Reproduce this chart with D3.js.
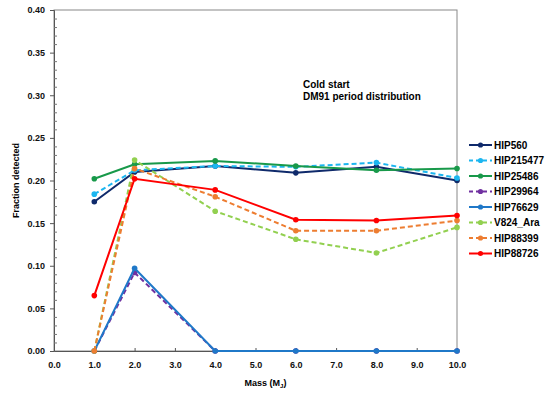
<!DOCTYPE html>
<html><head><meta charset="utf-8">
<script src="https://cdn.jsdelivr.net/npm/d3@7"></script>
<style>body{margin:0;background:#fff}svg{display:block;font-family:"Liberation Sans",Arial,sans-serif}</style>
</head><body><svg id="c" width="549" height="398"></svg>
<script>
const masses = [1, 2, 4, 6, 8, 10];
const seriesNames = ["HIP560","HIP215477","HIP25486","HIP29964","HIP76629","V824_Ara","HIP88399","HIP88726"];
const HIP560    = [0.175, 0.210, 0.217, 0.209, 0.216, 0.200];
const HIP215477 = [0.184, 0.212, 0.217, 0.216, 0.221, 0.203];
const HIP25486  = [0.202, 0.219, 0.223, 0.217, 0.212, 0.214];
const HIP29964  = [0.000, 0.092, 0.000, 0.000, 0.000, 0.000];
const HIP76629  = [0.000, 0.097, 0.000, 0.000, 0.000, 0.000];
const V824_Ara  = [0.000, 0.224, 0.164, 0.131, 0.115, 0.145];
const HIP88399  = [0.000, 0.214, 0.181, 0.141, 0.141, 0.153];
const HIP88726  = [0.065, 0.202, 0.189, 0.154, 0.153, 0.159];
const seriesValues = [HIP560, HIP215477, HIP25486, HIP29964, HIP76629, V824_Ara, HIP88399, HIP88726];
const colors = ["#0f2a6b","#1cb6f0","#18994a","#7030a0","#1f78c8","#92d050","#ed7d31","#ff0000"];
const dashed = [false,true,false,true,false,true,true,false];
const xTicks = [0,1,2,3,4,5,6,7,8,9,10];
const yTicks = [0,0.05,0.10,0.15,0.20,0.25,0.30,0.35,0.40];

const svg = d3.select("#c");
const L=54, R=457, T=10, B=351;
const x = d3.scaleLinear().domain([0,10]).range([L,R]);
const y = d3.scaleLinear().domain([0,0.4]).range([B,T]);

// frame
svg.append("rect").attr("x",L).attr("y",T).attr("width",R-L).attr("height",B-T)
  .attr("fill","none").attr("stroke","#888").attr("stroke-width",1);

// y axis
const yAx = svg.append("g").attr("transform",`translate(${L},0)`)
  .call(d3.axisLeft(y).tickValues(yTicks).tickFormat(d3.format(".2f")).tickSize(4).tickPadding(5));
yAx.select(".domain").attr("stroke","#555");
yAx.selectAll(".tick line").attr("stroke","#555");
yAx.selectAll("text").attr("font-size",9).attr("font-weight","bold").attr("fill","#111");
const minor = d3.range(0,41).map(i=>i/100).filter(v=>Math.round(v*100)%5!==0);
svg.append("g").selectAll("line").data(minor).join("line")
  .attr("x1",L).attr("x2",L+3).attr("y1",d=>y(d)+0.5).attr("y2",d=>y(d)+0.5)
  .attr("stroke","#777").attr("stroke-width",1);

// x axis
const xAx = svg.append("g").attr("transform",`translate(0,${B})`)
  .call(d3.axisBottom(x).tickValues(xTicks).tickFormat(d3.format(".1f")).tickSize(0).tickPadding(11));
xAx.select(".domain").attr("stroke","#555");
xAx.selectAll("text").attr("font-size",9).attr("font-weight","bold").attr("fill","#111");
svg.append("g").selectAll("line").data(xTicks).join("line")
  .attr("x1",d=>x(d)+0.5).attr("x2",d=>x(d)+0.5).attr("y1",B).attr("y2",B-3)
  .attr("stroke","#555");

// axis titles
svg.append("text").attr("transform",`translate(19,${(T+B)/2}) rotate(-90)`).attr("text-anchor","middle")
  .attr("font-size",9).attr("font-weight","bold").text("Fraction detected");
const xt = svg.append("text").attr("x",(L+R)/2+10).attr("y",386).attr("text-anchor","middle")
  .attr("font-size",9).attr("font-weight","bold");
xt.append("tspan").text("Mass (M");
xt.append("tspan").attr("font-size",6).attr("dy",2).text("J");
xt.append("tspan").attr("dy",-2).text(")");

// annotation
svg.append("text").attr("x",303).attr("y",88).attr("font-size",10).attr("font-weight","bold").text("Cold start");
svg.append("text").attr("x",303).attr("y",100).attr("font-size",10).attr("font-weight","bold").text("DM91 period distribution");

// series
const line = d3.line().x((d,i)=>x(masses[i])).y(d=>y(d));
seriesValues.forEach((vals,k)=>{
  const g = svg.append("g");
  g.append("path").datum(vals).attr("d",line).attr("fill","none")
    .attr("stroke",colors[k]).attr("stroke-width",2)
    .attr("stroke-dasharray",dashed[k]?"5,3":null);
  g.selectAll("circle").data(vals).join("circle")
    .attr("cx",(d,i)=>x(masses[i])).attr("cy",d=>y(d)).attr("r",2.8).attr("fill",colors[k]);
});

// legend
const lg = svg.append("g");
seriesNames.forEach((n,k)=>{
  const yy = 145 + k*15.5;
  lg.append("line").attr("x1",469).attr("x2",492).attr("y1",yy).attr("y2",yy)
    .attr("stroke",colors[k]).attr("stroke-width",2).attr("stroke-dasharray",dashed[k]?"4,3":null);
  lg.append("circle").attr("cx",480.5).attr("cy",yy).attr("r",2.6).attr("fill",colors[k]);
  lg.append("text").attr("x",494).attr("y",yy+3.5).attr("font-size",10).attr("font-weight","bold").text(n);
});
</script></body></html>
